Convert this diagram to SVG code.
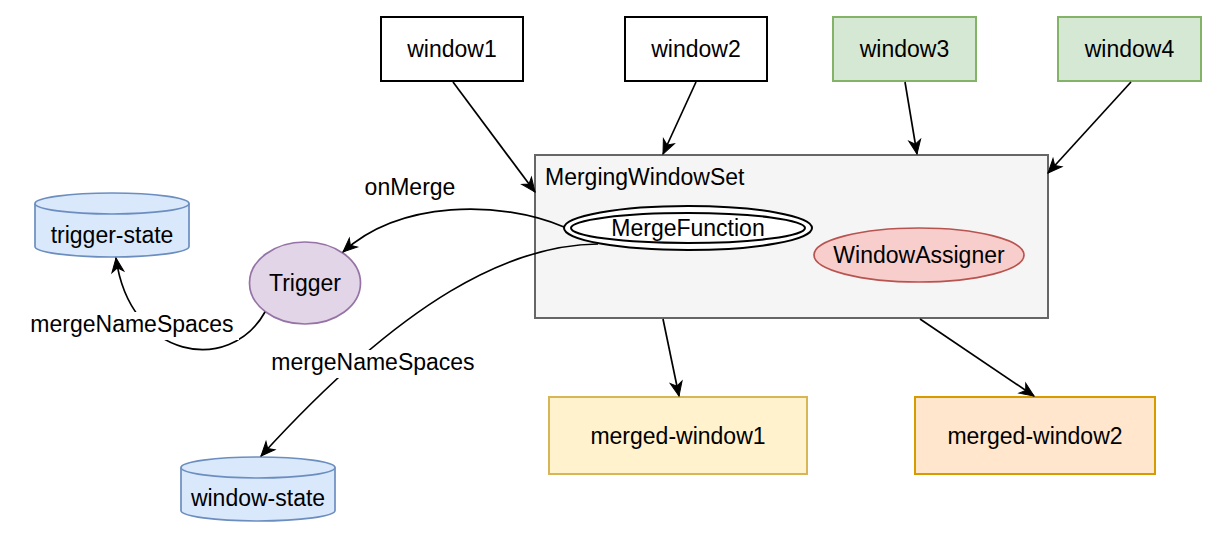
<svg xmlns="http://www.w3.org/2000/svg" width="1222" height="544" viewBox="0 0 1222 544">
<style>
text{font-family:"Liberation Sans",Arial,sans-serif;font-size:23px;fill:#000}
.c{text-anchor:middle}
.edge{fill:none;stroke:#000;stroke-width:1.7}
.bg{fill:#fff}
</style>
<defs>
<marker id="ah" markerUnits="userSpaceOnUse" markerWidth="16" markerHeight="13" refX="14" refY="6" orient="auto" overflow="visible">
<path d="M0,0 L14,6 L0,12 L4,6 Z" fill="#000" stroke="#000" stroke-width="1"/>
</marker>
</defs>
<rect width="1222" height="544" fill="#fff"/>

<g id="window1">
<rect x="381" y="17" width="142" height="64" fill="#fff" stroke="#000" stroke-width="2"/>
<text class="c" x="452" y="57">window1</text>
</g>
<g id="window2">
<rect x="625" y="17" width="142" height="64" fill="#fff" stroke="#000" stroke-width="2"/>
<text class="c" x="696" y="57">window2</text>
</g>
<g id="window3">
<rect x="833" y="17" width="143" height="64" fill="#d5e8d4" stroke="#82b366" stroke-width="2"/>
<text class="c" x="904.5" y="57">window3</text>
</g>
<g id="window4">
<rect x="1058" y="17" width="143" height="64" fill="#d5e8d4" stroke="#82b366" stroke-width="2"/>
<text class="c" x="1129.5" y="57">window4</text>
</g>

<g id="MergingWindowSet">
<rect x="535" y="155" width="513" height="163" fill="#f5f5f5" stroke="#666" stroke-width="2"/>
<text x="545" y="185">MergingWindowSet</text>
</g>
<g id="MergeFunction">
<ellipse cx="688" cy="228" rx="124" ry="22" fill="#fff" stroke="#000" stroke-width="2"/>
<ellipse cx="688" cy="228" rx="117" ry="15" fill="none" stroke="#000" stroke-width="2"/>
<text class="c" x="688" y="236">MergeFunction</text>
</g>
<g id="WindowAssigner">
<ellipse cx="919" cy="255" rx="105" ry="27" fill="#f8cecc" stroke="#b85450" stroke-width="1.7"/>
<text class="c" x="919" y="263">WindowAssigner</text>
</g>

<g id="Trigger">
<ellipse cx="305" cy="283" rx="55.5" ry="41" fill="#e1d5e7" stroke="#9673a6" stroke-width="1.7"/>
<text class="c" x="305" y="291">Trigger</text>
</g>

<g id="trigger-state">
<path d="M35,203.5 A77,10.5 0 0 1 189,203.5 L189,246.5 A77,10.5 0 0 1 35,246.5 Z" fill="#dae8fc" stroke="#6c8ebf" stroke-width="1.7"/>
<path d="M35,203.5 A77,10.5 0 0 0 189,203.5" fill="none" stroke="#6c8ebf" stroke-width="1.7"/>
<text class="c" x="112" y="243">trigger-state</text>
</g>
<g id="window-state">
<path d="M181,467.5 A77,10.5 0 0 1 335,467.5 L335,510.5 A77,10.5 0 0 1 181,510.5 Z" fill="#dae8fc" stroke="#6c8ebf" stroke-width="1.7"/>
<path d="M181,467.5 A77,10.5 0 0 0 335,467.5" fill="none" stroke="#6c8ebf" stroke-width="1.7"/>
<text class="c" x="258" y="506">window-state</text>
</g>

<g id="merged-window1">
<rect x="549" y="397" width="258" height="77" fill="#fff2cc" stroke="#d6b656" stroke-width="2"/>
<text class="c" x="678" y="444">merged-window1</text>
</g>
<g id="merged-window2">
<rect x="915" y="397" width="240" height="77" fill="#ffe6cc" stroke="#d79b00" stroke-width="2"/>
<text class="c" x="1035" y="444">merged-window2</text>
</g>

<g id="connectors">
<path class="edge" d="M453,82 L535,192" marker-end="url(#ah)"/>
<path class="edge" d="M696,82 L663,154" marker-end="url(#ah)"/>
<path class="edge" d="M905,82 L917,154" marker-end="url(#ah)"/>
<path class="edge" d="M1131,82 L1048,173" marker-end="url(#ah)"/>
<path class="edge" d="M663,319 L679,396" marker-end="url(#ah)"/>
<path class="edge" d="M920,319 L1034,396" marker-end="url(#ah)"/>
<path class="edge" d="M564,227 C500,200 400,200 343,252" marker-end="url(#ah)"/>
<path class="edge" d="M598,244 C510,245 405,298 261,456" marker-end="url(#ah)"/>
<path class="edge" d="M265,312 C230,375 130,360 116,258" marker-end="url(#ah)"/>
<g id="edge-labels">
<text class="c" x="410" y="195">onMerge</text>
<rect class="bg" x="266" y="350" width="214" height="28"/>
<text class="c" x="373" y="370">mergeNameSpaces</text>
<rect class="bg" x="25" y="312" width="214" height="28"/>
<text class="c" x="132" y="332">mergeNameSpaces</text>
</g>
</g>
</svg>
